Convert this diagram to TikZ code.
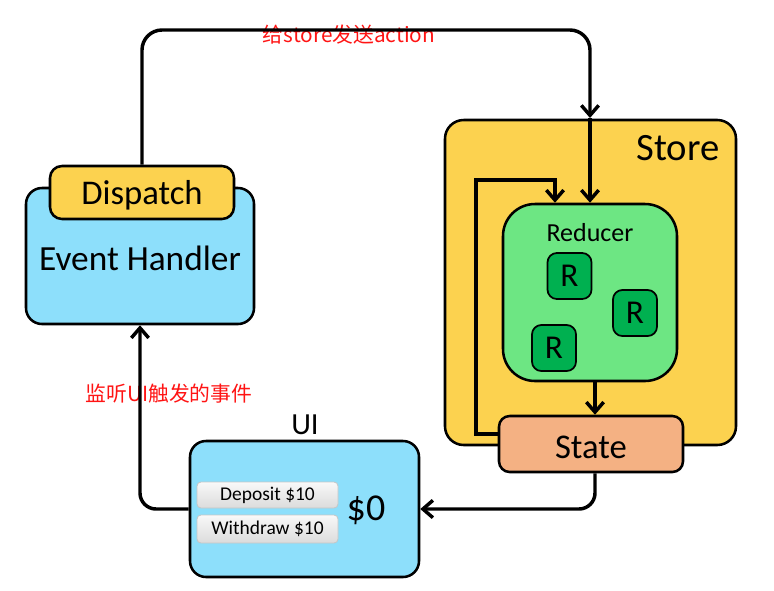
\documentclass[tikz,border=0pt]{standalone}
\usepackage{fontspec}
\setmainfont{Carlito}
\newfontfamily\cjk{Noto Sans CJK SC}
\usetikzlibrary{arrows.meta,calc}
\definecolor{gold}{HTML}{FCD24F}
\definecolor{skyb}{HTML}{8DDFFB}
\definecolor{lgreen}{HTML}{6DE683}
\definecolor{dgreen}{HTML}{00B050}
\definecolor{peach}{HTML}{F4B183}
\definecolor{lblred}{HTML}{FF1414}
\tikzset{
  box/.style={draw=black, line width=1.9pt, inner sep=0pt, anchor=center},
  rbox/.style={draw=black, line width=1.3pt, fill=dgreen, rounded corners=7pt, inner sep=0pt,
     minimum width=44*0.75pt, minimum height=46*0.75pt, font=\fontsize{25}{27}\selectfont},
  btn/.style={draw=gray!45, line width=0.6pt, rounded corners=3pt, top color=gray!5, bottom color=gray!28,
     inner sep=0pt, minimum width=141*0.75pt, font=\fontsize{14.6}{16}\selectfont},
  conn/.style={line width=2.6pt, -{Straight Barb[length=7.5pt,width=13pt]}},
  lbl/.style={text=lblred, inner sep=0pt, font=\cjk\fontsize{15.6}{18}\selectfont},
  title/.style={inner sep=0pt}
}
\begin{document}
\begin{tikzpicture}[x=0.75pt,y=-0.75pt]
\useasboundingbox (0,0) rectangle (774,590);
% Store
\node[box, fill=gold, rounded corners=14pt, minimum width=291*0.75pt, minimum height=325*0.75pt] (Store) at (590.5,282.5) {};
\node[title, font=\fontsize{29}{32}\selectfont] (StoreT) at (678,148) {Store};
% Reducer
\node[box, fill=lgreen, rounded corners=24pt, minimum width=174*0.75pt, minimum height=177*0.75pt] (Reducer) at (590,292.5) {};
\node[title, font=\fontsize{19.5}{22}\selectfont] (ReducerT) at (590,233) {Reducer};
\node[rbox] (R1) at (569.5,276) {R};
\node[rbox] (R2) at (635,313) {R};
\node[rbox] (R3) at (554,348) {R};
% State
\node[box, fill=peach, rounded corners=8pt, minimum width=184*0.75pt, minimum height=56*0.75pt] (State) at (591,444) {};
\node[title, font=\fontsize{26}{28}\selectfont] (StateT) at (591,447) {State};
% Event handler + dispatch
\node[box, fill=skyb, rounded corners=12pt, minimum width=228*0.75pt, minimum height=136*0.75pt] (EH) at (140,256) {};
\node[title, font=\fontsize{26.5}{28}\selectfont] (EHT) at (140,258) {Event Handler};
\node[box, fill=gold, rounded corners=9pt, minimum width=184*0.75pt, minimum height=53*0.75pt] (Dispatch) at (142,192.5) {};
\node[title, font=\fontsize{26}{28}\selectfont] (DispatchT) at (142,195.5) {Dispatch};
% UI
\node[box, fill=skyb, rounded corners=12pt, minimum width=229*0.75pt, minimum height=136*0.75pt] (UI) at (304.5,509) {};
\node[title, font=\fontsize{23}{26}\selectfont] (UIT) at (305,425) {UI};
\node[btn, minimum height=26*0.75pt] (Dep) at (267.5,495) {Deposit \$10};
\node[btn, minimum height=28*0.75pt] (Wd) at (267.5,529) {Withdraw \$10};
\node[title, font=\fontsize{28.5}{30}\selectfont] (Bal) at (366,510) {\$0};
% labels
\node[lbl] (L1) at (349,35) {给store发送action};
\node[lbl] (L2) at (169,394) {监听UI触发的事件};
% connectors
\coordinate (stin) at (590,118);
\draw[conn, rounded corners=15pt] (Dispatch.north) |- (590,30) -- (stin);
\draw[conn] (stin) -- (Reducer.north);
\coordinate (loopS) at ($(State.west)+(0,-10)$);
\coordinate (rin) at ($(Reducer.north)+(-35,0)$);
\draw[conn] (loopS) -- (476,434) |- (555,180) -- (rin);
\draw[conn] ($(Reducer.south)+(5,0)$) -- ($(State.north)+(4,0)$);
\draw[conn, rounded corners=12pt] ($(State.south)+(4,0)$) |- (UI.east);
\draw[conn, rounded corners=12pt] (UI.west) -| (EH.south);
\end{tikzpicture}
\end{document}
